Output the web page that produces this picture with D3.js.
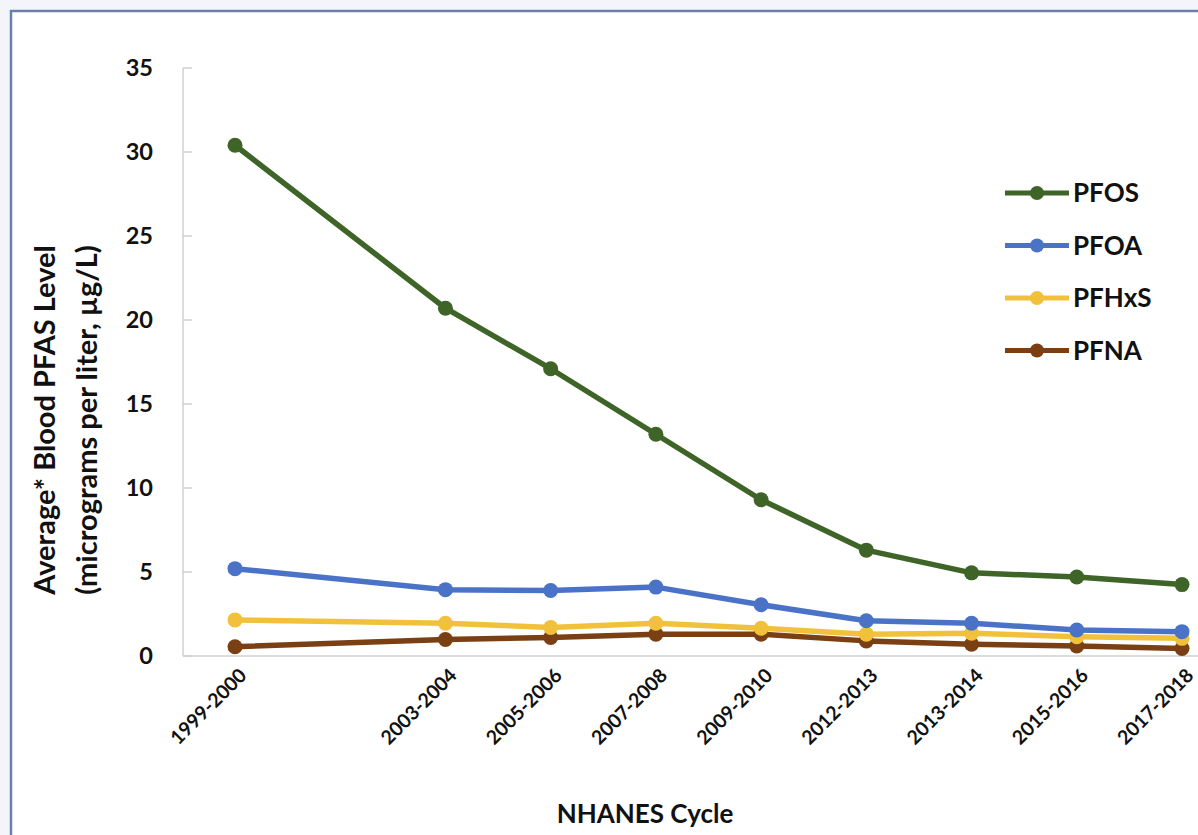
<!DOCTYPE html>
<html>
<head>
<meta charset="utf-8">
<script src="https://cdn.jsdelivr.net/npm/d3@7"></script>
<style>
  body { margin: 0; background: #f3f5fa; }
  svg { display: block; font-family: Lato, "Open Sans", sans-serif; }
</style>
</head>
<body>
<svg id="chart" width="1198" height="835"></svg>
<script>
// NHANES cycles as printed on the axis (the 2001-2002 slot is left empty)
const slots = ['1999-2000', '2001-2002', '2003-2004', '2005-2006', '2007-2008', '2009-2010', '2012-2013', '2013-2014', '2015-2016', '2017-2018'];
const cycles = ['1999-2000', '2003-2004', '2005-2006', '2007-2008', '2009-2010', '2012-2013', '2013-2014', '2015-2016', '2017-2018'];
const yTicks = [0, 5, 10, 15, 20, 25, 30, 35];

const pfos  = [30.4, 20.7, 17.1, 13.2, 9.3, 6.3, 4.95, 4.7, 4.25];
const pfoa  = [5.2, 3.95, 3.9, 4.1, 3.05, 2.1, 1.95, 1.55, 1.45];
const pfhxs = [2.15, 1.95, 1.7, 1.95, 1.65, 1.3, 1.35, 1.15, 1.05];
const pfna  = [0.55, 0.98, 1.1, 1.3, 1.3, 0.9, 0.7, 0.6, 0.45];

const seriesNames = ['PFOS', 'PFOA', 'PFHxS', 'PFNA'];
const seriesColors = ['#3f6428', '#4a73c8', '#f2c13c', '#7a3f12'];

const series = [pfos, pfoa, pfhxs, pfna].map((vals, i) => ({
  name: seriesNames[i],
  color: seriesColors[i],
  values: vals.map((v, j) => ({ cycle: cycles[j], value: v }))
}));

const svg = d3.select('#chart');

// chart frame
svg.append('rect')
  .attr('x', 11).attr('y', 11)
  .attr('width', 1198).attr('height', 860)
  .attr('fill', '#ffffff')
  .attr('stroke', '#6c7fae')
  .attr('stroke-width', 2.5);

const x = d3.scalePoint().domain(slots).range([235, 1182]);
const y = d3.scaleLinear().domain([0, 35]).range([656, 68]);

// axes lines
svg.append('line')
  .attr('x1', 183).attr('x2', 183)
  .attr('y1', y(35)).attr('y2', y(0))
  .attr('stroke', '#d0d0d0').attr('stroke-width', 1.5);
svg.append('line')
  .attr('x1', 183).attr('x2', 1198)
  .attr('y1', y(0)).attr('y2', y(0))
  .attr('stroke', '#d0d0d0').attr('stroke-width', 1.5);

svg.selectAll('.ytick')
  .data(yTicks)
  .enter().append('line')
  .attr('class', 'ytick')
  .attr('x1', 183).attr('x2', 192)
  .attr('y1', d => y(d)).attr('y2', d => y(d))
  .attr('stroke', '#d0d0d0').attr('stroke-width', 1.5);

svg.selectAll('.ylabel')
  .data(yTicks)
  .enter().append('text')
  .attr('class', 'ylabel')
  .attr('x', 153)
  .attr('y', d => y(d))
  .attr('dy', '0.36em')
  .attr('text-anchor', 'end')
  .attr('font-size', 23.5)
  .attr('font-weight', 'bold')
  .attr('fill', '#111')
  .text(d => d);

svg.selectAll('.xlabel')
  .data(cycles)
  .enter().append('text')
  .attr('class', 'xlabel')
  .attr('transform', d => `translate(${x(d) + 3},${667}) rotate(-45)`)
  .attr('text-anchor', 'end')
  .attr('dy', '0.7em')
  .attr('font-size', 19.5)
  .attr('font-weight', 'bold')
  .attr('fill', '#111')
  .text(d => d);

// axis titles
svg.append('text')
  .attr('x', 645).attr('y', 823)
  .attr('text-anchor', 'middle')
  .attr('font-size', 26)
  .attr('font-weight', 'bold')
  .attr('fill', '#111')
  .text('NHANES Cycle');

const yTitle = svg.append('text')
  .attr('transform', 'translate(55,420) rotate(-90)')
  .attr('text-anchor', 'middle')
  .attr('font-size', 29)
  .attr('font-weight', 'bold')
  .attr('fill', '#111');
yTitle.append('tspan').attr('x', 0).attr('dy', 0).text('Average* Blood PFAS Level');
yTitle.append('tspan').attr('x', 0).attr('dy', 42).text('(micrograms per liter, µg/L)');

// lines and markers
const line = d3.line().x(d => x(d.cycle)).y(d => y(d.value));

const g = svg.selectAll('.series')
  .data(series.slice().reverse())
  .enter().append('g')
  .attr('class', 'series');

g.append('path')
  .attr('d', d => line(d.values))
  .attr('fill', 'none')
  .attr('stroke', d => d.color)
  .attr('stroke-width', 5.5)
  .attr('stroke-linejoin', 'round');

g.selectAll('circle')
  .data(d => d.values.map(v => ({ ...v, color: d.color })))
  .enter().append('circle')
  .attr('cx', d => x(d.cycle))
  .attr('cy', d => y(d.value))
  .attr('r', 7.5)
  .attr('fill', d => d.color);

// legend
const legend = svg.selectAll('.legend')
  .data(series)
  .enter().append('g')
  .attr('class', 'legend')
  .attr('transform', (d, i) => `translate(1005,${193 + i * 52.5})`);

legend.append('line')
  .attr('x1', 0).attr('x2', 64)
  .attr('stroke', d => d.color)
  .attr('stroke-width', 5);
legend.append('circle')
  .attr('cx', 32).attr('r', 7)
  .attr('fill', d => d.color);
legend.append('text')
  .attr('x', 68)
  .attr('dy', '0.36em')
  .attr('font-size', 26)
  .attr('font-weight', 'bold')
  .attr('fill', '#111')
  .text(d => d.name);
</script>
</body>
</html>
